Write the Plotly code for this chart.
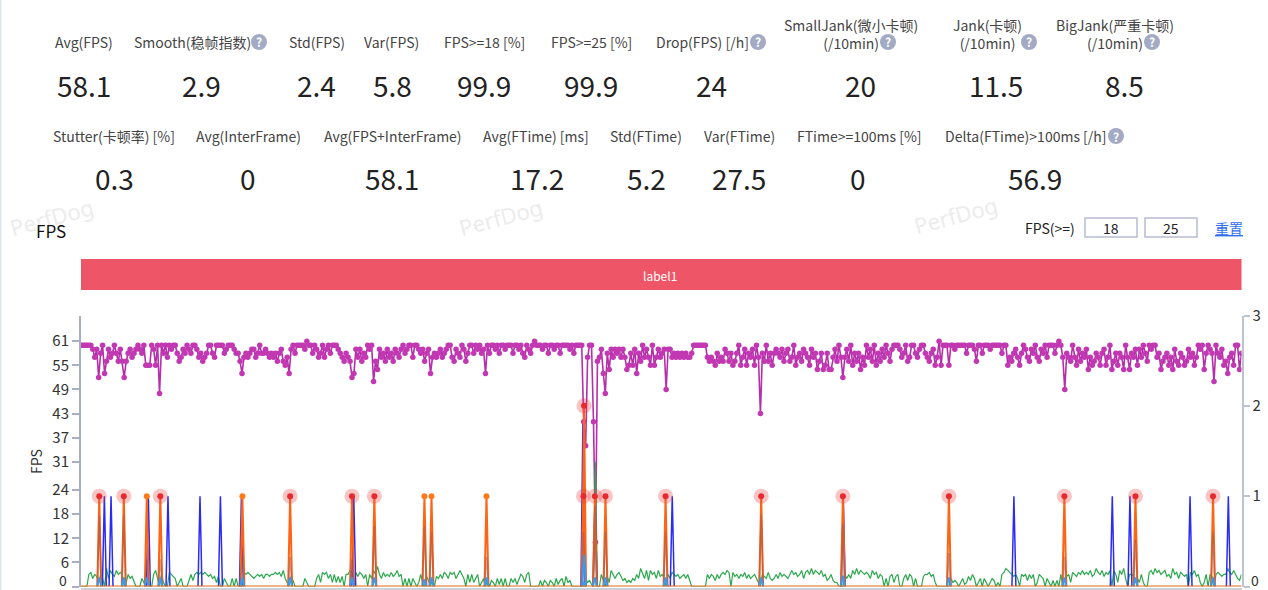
import plotly.graph_objects as go

W, H = 1268, 590
FONT = "Noto Sans CJK SC"

# ---- metric tiles ----
row1_labels = ["Avg(FPS)", "Smooth(稳帧指数)", "Std(FPS)", "Var(FPS)", "FPS>=18 [%]", "FPS>=25 [%]", "Drop(FPS) [/h]",
               "SmallJank(微小卡顿)<br>(/10min)", "Jank(卡顿)<br>(/10min)", "BigJank(严重卡顿)<br>(/10min)"]
row1_values = ["58.1", "2.9", "2.4", "5.8", "99.9", "99.9", "24", "20", "11.5", "8.5"]
row2_labels = ["Stutter(卡顿率) [%]", "Avg(InterFrame)", "Avg(FPS+InterFrame)", "Avg(FTime) [ms]", "Std(FTime)",
               "Var(FTime)", "FTime>=100ms [%]", "Delta(FTime)>100ms [/h]"]
row2_values = ["0.3", "0", "58.1", "17.2", "5.2", "27.5", "0", "56.9"]

# ---- chart data ----
fps = [
 60,60,60,60,60,60,59,57,59,52,58,60,53,56,59,57,58,60,58,56,
 59,56,52,56,58,59,57,58,59,60,59,58,60,55,55,55,60,59,55,60,
 48,60,58,60,57,60,59,60,60,58,56,57,59,58,60,59,58,60,60,59,
 57,58,56,57,58,60,60,58,57,60,60,60,60,58,59,60,60,60,59,58,
 58,56,53,57,58,57,58,59,59,57,58,60,58,58,59,58,57,58,57,58,
 56,58,59,56,55,57,53,59,60,58,60,60,60,60,59,61,60,60,58,60,
 59,57,58,60,57,59,60,58,60,60,60,59,58,57,56,58,57,56,52,53,
 59,57,59,56,58,57,60,59,60,51,56,54,59,57,58,56,59,57,58,56,
 59,58,57,59,60,58,59,60,60,57,60,60,59,58,59,56,58,59,53,57,
 58,57,58,59,57,58,59,60,60,57,56,59,58,57,60,59,56,58,60,60,
 58,60,59,60,58,59,53,60,58,60,60,59,60,58,60,60,59,60,60,60,
 58,60,60,59,60,58,57,60,59,58,60,61,60,60,60,59,60,60,58,60,
 60,59,60,60,58,60,60,60,60,59,60,58,60,60,60,60,41,35,57,60,
 60,41,11,56,57,59,53,48,58,54,59,57,59,58,59,57,59,57,54,55,
 58,55,59,53,58,56,60,57,59,57,55,60,55,57,59,57,58,59,49,59,
 59,57,58,57,58,57,58,57,58,57,57,58,60,60,60,60,60,60,60,57,
 56,57,56,55,58,56,57,56,59,58,56,58,55,56,58,60,55,57,59,55,
 58,57,59,55,60,57,43,58,56,60,56,58,55,58,59,58,57,59,56,58,
 59,56,57,60,55,57,58,56,59,58,57,55,59,57,58,54,56,58,54,55,
 58,54,54,57,59,56,60,57,52,57,59,56,60,55,58,56,58,54,57,55,
 60,57,59,56,60,55,58,56,59,57,60,58,56,59,60,60,60,59,57,58,
 60,56,57,60,60,58,57,59,60,60,58,57,56,58,59,55,57,61,55,60,
 60,60,55,60,60,59,60,60,60,60,60,58,60,60,60,59,56,60,60,58,
 60,60,60,59,60,60,60,60,60,58,60,60,55,57,56,58,59,57,55,58,
 60,59,57,56,59,58,60,57,56,59,58,60,57,60,60,60,58,60,61,60,
 57,49,58,57,56,60,57,55,59,56,58,57,59,54,57,55,56,58,57,55,
 58,59,55,57,60,54,56,58,55,58,57,54,60,57,54,58,57,59,55,59,
 57,60,58,56,60,59,60,60,57,58,54,56,57,58,55,57,54,59,56,55,
 58,57,55,56,59,57,58,55,57,60,59,60,54,58,60,59,58,51,60,58,
 57,59,55,56,53,57,58,55,60,60,54,58]

interframe = [
 0,0,0,0,3,3.5,2,3,2.5,1,3,2,0,4.5,2,4,3,2.5,4,3,
 3.5,3,0,1,3,2,2.5,1,0,0,0,2,1,0,1,0,0,3,4,2,
 0,3,1,0,0,3.5,3,2.5,2,0,1,2,0,0,0,1.5,3,1.5,3,3.5,
 3,3.5,3,3.5,3,2.5,3,2,2.5,1,2.5,0,0,2,1,0,0,2,0,2,
 0,0,0,3.5,3,3.5,3,2.5,2,2.5,3,2.5,3,2,3,3,2.5,3,3,3.5,
 3,3.5,2.5,4,2,1,0,2.5,1.5,0,0,0,0,0,2,1,0,0,0,0,
 2,3,1,3.5,3,3.5,2,3,1,3,1,2.5,1,2.5,0,3,3,4,3.5,0,
 3.5,2.5,3.5,3,2,3,0,3,2,4,3,5,3,2,3.5,2.5,3,2.5,3.5,2.5,
 3,4,2.5,3,0,2,0,2,0,2,1,0,1,3,1,0,2.5,1.5,0,2,
 0,2.5,2,3,2,3.5,3,2,3.5,3,3.5,2,3,4,3,2,0,3,1,3,
 1,2,3,0,1,2,0,1.5,0,1.5,1,0,2,0.5,2,0,2,0,0,2,
 1,2,0.5,2,3,2.5,1,3,3.5,0,0,0,0,0,1.5,0,1.5,1,0,1.5,
 1,0,2,0.5,1.5,2,0,2.5,1,1.5,0,0,0,0,0,0,0,2,1,1.5,
 0.5,0,31,0,0,3,1.5,0,2.5,1,4,3,2,3,3.5,2.5,1.5,2,1,1.5,
 1,2,1.5,3,2,4.5,3,2,4,1.5,4,3,3.5,2,4,2.5,3,2,0,3,
 2,3.5,3,2.5,3,2,2.5,3,2,3,1.5,0,0,0,0,0,0,0,0,3,
 2,3,2.5,1.5,3,2,3,3.5,3,4,3.5,0,3.5,2.5,3,2,3,2.5,3.5,2,
 3,2,2.5,3,2,1,0,3,2.5,2,3.5,2,1.5,2,3,2,3.5,2.5,3,2.5,
 2,3,4,3,3.5,2.5,3,4,2,3.5,4,3,4.5,3,4,3.5,3,4,2.5,3,
 1.5,2,3,1.5,1,1,0,0,0,3,2,3,2,4,3,4.5,3,4,3.5,3,
 3.5,3,2,4,3,3.5,2,3,2.5,0,2,0,2.5,3,1,2.5,3,0,0,2,
 3,1.5,3,2.5,0,2,0,0,0,2.5,3,3,3.5,2.5,3,1,0,0,0,0,
 0,0,0,2,1,1.5,1,0,1,2,0.5,1,2.5,1.5,3,2,0,1,2,0,
 2,1,0,1,2,1.5,0,1,0,3,3.5,4.5,4,3.5,3,2.5,3,2,0,3,
 2.5,3,1.5,3,2,3,0,1,3,2.5,2,0,2,1,0,1.5,0,1.5,0,3,
 0,0,2.5,3,1,3.5,3,2.5,3.5,3,4,3,3.5,3,4,2.5,3,4.5,3.5,3,
 4,2.5,3.5,3,4,0,4,3,1,4,3,4.5,2,0,3,3,2.5,1,2,1,
 3,1,0,0,3.5,4,3,4.5,3.5,4,3,3.5,4,2.5,3,2,4.5,3,3.5,2,
 3.5,3,2.5,3,0,3.5,3,4,2.5,3,1,0,1,3,0,3,2.5,0,3,3.5,
 3,2.5,3,3,4.5,3.5,3,4,3,2,1.5,3]

# Jank events (seconds), in time order
jank_times = [9.3, 21.8, 33.5, 40.4, 82.2, 106.5, 138.0, 149.4, 174.9, 178.5, 206.5, 255.9, 256.2,
              261.7, 267.1, 297.7, 346.4, 388.0, 442.0, 500.8, 537.0, 576.5]
jank_values = [1, 1, 1, 1, 1, 1, 1, 1, 1, 1, 1, 1, 2, 1, 1, 1, 1, 1, 1, 1, 1, 1]
jank_frame  = [.78, .8, .3, .3, .35, .33, .3, .67, .67, .6, .33, .6, .3, .9, .6, .6, .8, .7, .37, .33, .52, .6]
stutter     = [.1, .1, .1, .1, .1, .1, .1, .1, .08, .1, .1, .05, .35, .1, .1, .1, .1, .12, .1, .1, .1, .1]
bigjank_times  = [9.3, 21.8, 40.4, 106.5, 138.0, 149.4, 255.9, 256.2, 261.7, 267.1, 297.7, 346.4, 388.0,
                  442.0, 500.8, 537.0, 576.5]
bigjank_values = [1, 1, 1, 1, 1, 1, 1, 2, 1, 1, 1, 1, 1, 1, 1, 1, 1]
jankonly_times = [33.5, 82.2, 174.9, 178.5, 206.5]
jankonly_values = [1, 1, 1, 1, 1]
small_times = [11.9, 15.3, 34.3, 44.3, 60.6, 71.0, 81.7, 138.9, 255.6, 261.8, 301.1, 388.2, 475.1, 525.2,
               534.2, 564.8, 584.3]
small_values = [1, 1, 1, 1, 1, 1, 1, 1, 1.8, 1, 1, 1, 1, 1, 1, 1, 1]

fps_ticks = [0, 6, 12, 18, 24, 31, 37, 43, 49, 55, 61]
right_ticks = [0, 1, 2, 3]
x_ticks = list(range(0, 600, 30))
seconds = list(range(len(fps)))


def spikes(ts, vs):
    xs, ys = [], []
    for t, v in zip(ts, vs):
        xs += [t - 1, t, t + 1, None]
        ys += [0, v, 0, None]
    return xs, ys


fig = go.Figure()
fig.add_trace(go.Scatter(x=seconds, y=fps, mode="lines+markers", line=dict(color="#b62eab", width=1.6),
                         marker=dict(color="#c238b2", size=5.5), yaxis="y"))
fig.add_trace(go.Scatter(x=seconds, y=interframe, mode="lines", line=dict(color="#2ba84c", width=1.2), yaxis="y"))
sx, sy = spikes(small_times, small_values)
fig.add_trace(go.Scatter(x=sx, y=sy, mode="lines", line=dict(color="#2a2bf5", width=1.5), yaxis="y2"))
jx, jy = spikes(jank_times, jank_values)
fig.add_trace(go.Scatter(x=jx, y=jy, mode="lines", line=dict(color="#ff6414", width=2), yaxis="y2"))
fx, fy = spikes(jank_times, jank_frame)
fig.add_trace(go.Scatter(x=fx, y=fy, mode="lines", line=dict(color="rgba(150,90,90,0.5)", width=1.6), yaxis="y2"))
tx, ty = spikes(jank_times, stutter)
fig.add_trace(go.Scatter(x=tx, y=ty, mode="lines", line=dict(color="#3a9af0", width=2), yaxis="y2"))
fig.add_trace(go.Scatter(x=[seconds[0], seconds[-1]], y=[0, 0], mode="lines",
                         line=dict(color="#dd6a1e", width=2), yaxis="y2"))
fig.add_trace(go.Scatter(x=jankonly_times, y=jankonly_values, mode="markers", cliponaxis=False,
                         marker=dict(color="#ff7a1a", size=6), yaxis="y2"))
fig.add_trace(go.Scatter(x=bigjank_times, y=bigjank_values, mode="markers", cliponaxis=False,
                         marker=dict(color="rgba(235,60,60,0.3)", size=15), yaxis="y2"))
fig.add_trace(go.Scatter(x=bigjank_times, y=bigjank_values, mode="markers", cliponaxis=False,
                         marker=dict(color="#e62a2e", size=6), yaxis="y2"))

# ---- page layout (pixel positions on the page) ----
row1_label_x = [84, 192, 316.5, 391.5, 484, 591, 702.5, 851, 987, 1115]
row1_label_y = [42, 42, 42, 42, 42, 42, 42, 33.5, 33.5, 33.5]
row1_value_x = [84, 201, 316, 392, 484, 591, 711, 860, 996, 1124]
row2_label_x = [114, 248.5, 392.5, 536, 645.5, 739, 859, 1026]
row2_value_x = [114, 248, 392, 537, 646, 739, 858, 1035]
help_xy = [(259, 42), (758, 42), (888, 42), (1029, 42), (1152, 42), (1116, 136)]
mark_xy = [(51, 217), (500, 217), (955, 215)]


def px(x):
    return x / W


def py(y):
    return 1 - y / H


ann = []
shapes = []


def text(x, y, s, size=14, color="#444", anchor="center", angle=0, font=FONT):
    ann.append(dict(x=px(x), y=py(y), xref="paper", yref="paper", text=s, showarrow=False, xanchor=anchor,
                    yanchor="middle", textangle=angle, font=dict(family=font, size=size, color=color), align="center"))


for xy in mark_xy:
    text(xy[0], xy[1], "PerfDog", size=22, color="#ececec", angle=-15, font="Noto Sans")
for lb, x, y in zip(row1_labels, row1_label_x, row1_label_y):
    text(x, y, lb)
for v, x in zip(row1_values, row1_value_x):
    text(x, 85, v, size=28, color="#222")
for lb, x in zip(row2_labels, row2_label_x):
    text(x, 136, lb)
for v, x in zip(row2_values, row2_value_x):
    text(x, 178, v, size=28, color="#222")
for x, y in help_xy:
    shapes.append(dict(type="circle", xref="paper", yref="paper", x0=px(x - 8), x1=px(x + 8), y0=py(y + 8), y1=py(y - 8),
                       fillcolor="#a3aac4", line_width=0))
    text(x, y, "<b>?</b>", size=12, color="#fff")

text(50.5, 231, "FPS", size=17, color="#111")
text(1050, 228, "FPS(>=)", size=14, color="#222")
for x0, x1, s in [(1085, 1137, "18"), (1145, 1197, "25")]:
    shapes.append(dict(type="rect", xref="paper", yref="paper", x0=px(x0), x1=px(x1), y0=py(237), y1=py(218),
                       line=dict(color="#b8bdd0", width=1.5), fillcolor="#fff"))
    text((x0 + x1) / 2, 228, s, size=14, color="#222")
text(1228.5, 228, "<u>重置</u>", size=14, color="#2f6ff0")

shapes.append(dict(type="rect", xref="paper", yref="paper", x0=px(81), x1=px(1241.5), y0=py(290), y1=py(259),
                   fillcolor="#ee5566", line=dict(color="#ee5566", width=0)))
text(660, 275, "label1", size=12, color="#fff")
shapes.append(dict(type="rect", xref="paper", yref="paper", x0=0, x1=px(1.5), y0=0, y1=1,
                   fillcolor="#dfe3f4", line_width=0))
text(36, 462, "FPS", size=14, color="#333", angle=-90)
# the zero labels sit against the page edge, where the axis drops them
text(63, 579.5, "0", size=14, color="#333")
text(1255, 579.5, "0", size=14, color="#333")

fig.update_layout(
    width=W, height=H, margin=dict(l=0, r=0, t=0, b=0, autoexpand=False), paper_bgcolor="#fff", plot_bgcolor="#fff",
    showlegend=False, hovermode=False, annotations=ann, shapes=shapes,
    font=dict(family=FONT, size=14, color="#333"),
    xaxis=dict(domain=[px(81), px(1241.5)], range=[0, 591], anchor="free", position=(H - 588.5) / H,
               showgrid=False, zeroline=False, showline=True, linecolor="#cdd1dc", linewidth=1.5,
               tickvals=x_ticks, ticks="outside", ticklen=4, tickcolor="#cdd1dc", showticklabels=False),
    yaxis=dict(domain=[(H - 586.5) / H, (H - 315.5) / H], range=[0, 67.4], tickvals=fps_ticks, showgrid=False,
               zeroline=False, showline=True, linecolor="#a8afc0", linewidth=2, ticks="outside", ticklen=7,
               tickwidth=2, tickcolor="#a8afc0", tickfont=dict(size=15, color="#333")),
    yaxis2=dict(domain=[(H - 586.5) / H, (H - 315.5) / H], range=[0, 3], overlaying="y", side="right", anchor="x",
                tickvals=right_ticks, showgrid=False, zeroline=False, showline=True, linecolor="#bcc3d3", linewidth=2,
                ticks="outside", ticklen=6, tickwidth=2, tickcolor="#bcc3d3", tickfont=dict(size=15, color="#333")),
)

fig.write_html("out.html", config={"displayModeBar": False},
               post_script="document.body.style.margin='0';document.body.style.overflow='hidden';")
